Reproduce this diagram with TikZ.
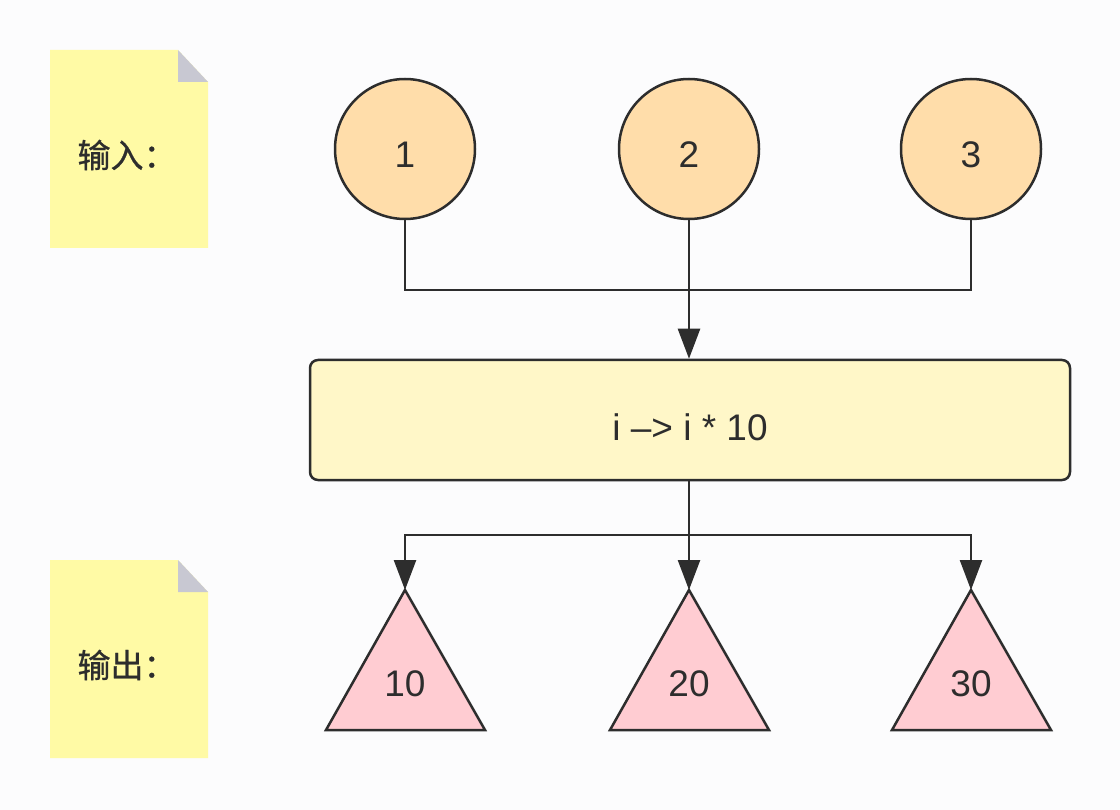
\documentclass[tikz,border=0pt]{standalone}
\usepackage{fontspec}
\setmainfont{Liberation Sans}
\newfontfamily\cjk[FakeBold=0.8]{Noto Sans CJK SC}
\usetikzlibrary{arrows.meta}
\definecolor{notey}{RGB}{255,250,165}
\definecolor{foldg}{RGB}{200,200,210}
\definecolor{peach}{RGB}{255,221,170}
\definecolor{boxy}{RGB}{255,247,200}
\definecolor{pinkt}{RGB}{255,204,210}
\definecolor{ink}{RGB}{45,45,45}
\definecolor{bg}{RGB}{252,252,253}
\tikzset{
  ball/.style={circle,draw=ink,line width=2.5pt,fill=peach,minimum size=140pt,inner sep=0pt,text=ink},
  balltext/.style={font=\fontsize{37}{37}\selectfont,text=ink},
  funcbox/.style={rectangle,rounded corners=8pt,draw=ink,line width=2.5pt,fill=boxy,minimum width=760pt,minimum height=120pt,inner sep=0pt},
  tri/.style={draw=ink,line width=2.5pt,fill=pinkt,line join=miter},
  notelabel/.style={font=\cjk\fontsize{33}{33}\selectfont,text=ink,anchor=west},
  trilabel/.style={font=\fontsize{37}{37}\selectfont,text=ink},
  wire/.style={draw=ink,line width=2.5pt},
  arrowwire/.style={wire,-{Triangle[length=30pt,width=22pt]}},
}
\begin{document}
\begin{tikzpicture}[x=1pt,y=-1pt]
\fill[bg] (0,0) rectangle (1120,810);
\useasboundingbox (0,0) rectangle (1120,810);
% notes
\fill[notey] (50,50) -- (178,50) -- (208,82) -- (208,248) -- (50,248) -- cycle;
\fill[foldg] (178,50) -- (208,82) -- (178,82) -- cycle;
\node[notelabel] (in) at (74,155) {输入：};
\fill[notey] (50,560) -- (178,560) -- (208,592) -- (208,758) -- (50,758) -- cycle;
\fill[foldg] (178,560) -- (208,592) -- (178,592) -- cycle;
\node[notelabel] (out) at (74,665) {输出：};
% inputs
\node[ball] (c1) at (405,149) {};
\node[ball] (c2) at (689,149) {};
\node[ball] (c3) at (971,149) {};
\node[balltext] (l1) at (405,155) {1};
\node[balltext] (l2) at (689,155) {2};
\node[balltext] (l3) at (971,155) {3};
% function box
\node[funcbox] (f) at (690,420) {};
\node[trilabel] (fl) at (690,427) {i –> i * 10};
% outputs
\draw[tri] (405,590) -- (485,730) -- (326,730) -- cycle;
\draw[tri] (689,590) -- (769,730) -- (610,730) -- cycle;
\draw[tri] (971,590) -- (1051,730) -- (892,730) -- cycle;
\coordinate (t1) at (405,590);
\coordinate (t2) at (689,590);
\coordinate (t3) at (971,590);
\node[trilabel] (o1) at (405,684) {10};
\node[trilabel] (o2) at (689,684) {20};
\node[trilabel] (o3) at (971,684) {30};
% connectors
\coordinate (j) at (689,290);
\coordinate (k) at (689,535);
\draw[wire] (c1.south) |- (j) -| (c3.south);
\draw[arrowwire] (c2.south) -- (c2.south |- f.north);
\draw[wire] (f.south -| c2) -- (k);
\draw[arrowwire] (k) -| (t1);
\draw[arrowwire] (k) -| (t3);
\draw[arrowwire] (f.south -| c2) -- (t2);
\end{tikzpicture}
\end{document}
